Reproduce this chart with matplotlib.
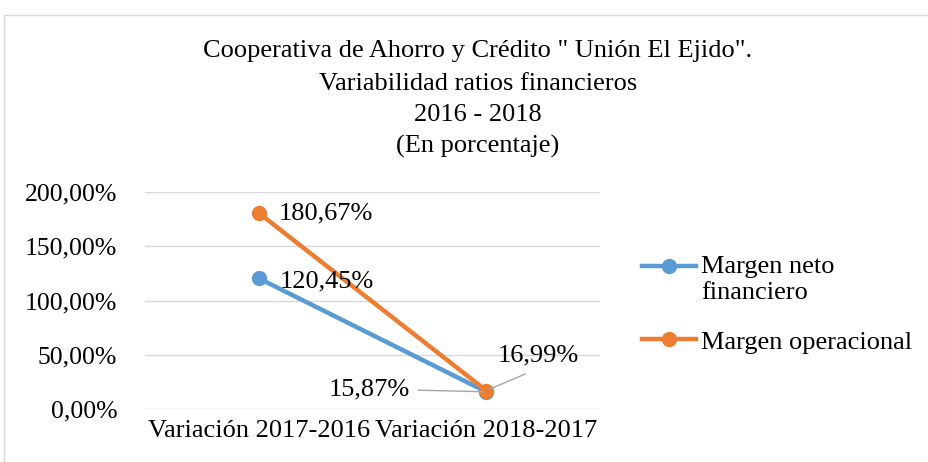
import matplotlib.pyplot as plt
from matplotlib.patches import Rectangle
from matplotlib.ticker import FuncFormatter
from matplotlib.legend_handler import HandlerLine2D

# data
categories = ["Variación 2017-2016", "Variación 2018-2017"]
margen_neto = [120.45, 15.87]
margen_operacional = [180.67, 16.99]
series_names = ["Margen neto\nfinanciero", "Margen operacional"]
title_lines = ["Cooperativa de Ahorro y Crédito \" Unión El Ejido\".",
               "Variabilidad ratios financieros", "2016 - 2018", "(En porcentaje)"]

blue = "#5B9BD5"
orange = "#ED7D31"
FS = 19

plt.rcParams["font.family"] = ["Liberation Serif", "DejaVu Serif"]


class TopLineHandler(HandlerLine2D):
    # put the legend line next to the first line of a two-line label
    def __init__(self, shift=0, **kw):
        super().__init__(**kw)
        self.shift = shift

    def create_artists(self, legend, orig_handle, xdescent, ydescent,
                       width, height, fontsize, trans):
        return super().create_artists(legend, orig_handle, xdescent,
                                      ydescent - self.shift, width, height,
                                      fontsize, trans)


fig = plt.figure(figsize=(9.29, 4.62), dpi=100)
fig.patches.append(Rectangle((4 / 929, -0.1), 1.2, 1 - 15 / 462 + 0.1,
                             transform=fig.transFigure, fill=False,
                             edgecolor="#D9D9D9", linewidth=1))

ax = fig.add_axes([145 / 929, 1 - 409 / 462, 455 / 929, 217 / 462])
x = list(range(len(categories)))

l1, = ax.plot(x, margen_neto, color=blue, lw=3.2, marker="o", ms=10,
              label=series_names[0], zorder=3)
l2, = ax.plot(x, margen_operacional, color=orange, lw=3.2, marker="o", ms=10,
              label=series_names[1], zorder=3)

ax.set_xlim(-0.5, 1.5)
ax.set_ylim(0, 200)
ax.set_yticks([0, 50, 100, 150, 200])
ax.yaxis.set_major_formatter(FuncFormatter(lambda v, p: f"{v:.2f}%".replace(".", ",")))
ax.set_xticks(x)
ax.set_xticklabels(categories)
ax.tick_params(axis="both", length=0, labelsize=FS, colors="#000000")
ax.tick_params(axis="y", labelsize=18.5, pad=20)
ax.tick_params(axis="x", pad=8)
ax.grid(axis="y", color="#D9D9D9", lw=1)
ax.set_axisbelow(True)
for s in ax.spines.values():
    s.set_visible(False)


def fmt(v):
    return f"{v:.2f}%".replace(".", ",")


# data labels
ax.annotate(fmt(margen_operacional[0]), (x[0], margen_operacional[0]),
            xytext=(14, 0), textcoords="offset points", fontsize=FS,
            va="center", ha="left")
ax.annotate(fmt(margen_neto[0]), (x[0], margen_neto[0]),
            xytext=(15, -2), textcoords="offset points", fontsize=FS,
            va="center", ha="left")
ax.annotate(fmt(margen_neto[1]), (x[1], margen_neto[1]),
            xytext=(-55, 2), textcoords="offset points", fontsize=FS,
            va="center", ha="right",
            arrowprops=dict(arrowstyle="-", color="#A6A6A6", lw=1,
                            shrinkA=4, shrinkB=2))
ax.annotate(fmt(margen_operacional[1]), (x[1], margen_operacional[1]),
            xytext=(8, 25), textcoords="offset points", fontsize=FS,
            va="center", ha="left",
            arrowprops=dict(arrowstyle="-", color="#A6A6A6", lw=1,
                            shrinkA=8, shrinkB=2, relpos=(0.55, 0)))

for line, yy in zip(title_lines, [51, 84, 115, 146]):
    fig.text(478 / 929, 1 - yy / 462, line, ha="center", va="center", fontsize=FS)

ax.legend(loc="center left", bbox_to_anchor=(618 / 929, 1 - 305 / 462),
          bbox_transform=fig.transFigure, frameon=False, fontsize=FS,
          handlelength=2.05, handletextpad=0.2, labelspacing=1.0,
          handler_map={l1: TopLineHandler(shift=19), l2: TopLineHandler(shift=0)})

fig.savefig("out.png", dpi=100)
